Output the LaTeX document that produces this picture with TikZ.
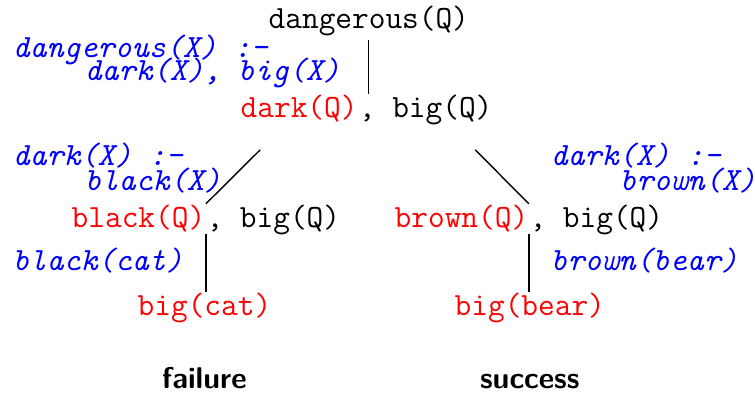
\documentclass[tikz,border=0pt]{standalone}
\usepackage{fontspec}
\usepackage{tikz}
\usetikzlibrary{calc}

\begin{document}
\begin{tikzpicture}[x=0.5pt, y=-0.5pt, line width=0.7pt,
  every node/.style={inner sep=0pt, anchor=base west, font=\fontsize{16.2}{19}\selectfont\ttfamily},
  sel/.style={text=red},
  rule/.style={text=blue, font=\fontsize{16.2}{19}\selectfont\ttfamily\itshape},
  verdict/.style={anchor=base, font=\fontsize{15}{18}\selectfont\sffamily\bfseries}]
\useasboundingbox (0,0) rectangle (755,396);

% Goal at the root
\node (top) at (268,28) {dangerous(Q)};
\node[rule] (r1a) at (12,57) {dangerous(X) :-};
\node[rule] (r1b) at (84,80) {dark(X), big(X)};

% First resolvent
\node[sel] (dq) at (240,117) {dark(Q)};
\node (dqrest) at (dq.base east) {, big(Q)};
\coordinate (fork) at ($(dq.north east)+(10,0)$);
\draw ($(top.south -| fork)+(0,4)$) -- (fork);

% Left branch
\node[rule] (r2a) at (12,165) {dark(X) :-};
\node[rule] (r2b) at (84,190) {black(X)};
\node[sel] (bq) at (71,227) {black(Q)};
\node (bqrest) at (bq.base east) {, big(Q)};
\coordinate (forkL) at ($(fork)+(-108,56)$);
\draw (forkL) -- (bq.north east);
\node[rule] (r4) at (12,270) {black(cat)};
\node[sel] (bc) at (137,315) {big(cat)};
\draw ($(bq.south east)+(0,2)$) -- (bq.south east |- bc.north);

% Right branch
\node[rule] (r3a) at (550,165) {dark(X) :-};
\node[rule] (r3b) at (619,190) {brown(X)};
\node[sel] (brq) at (394,227) {brown(Q)};
\node (brqrest) at (brq.base east) {, big(Q)};
\coordinate (forkR) at ($(fork)+(107,56)$);
\draw (forkR) -- (brq.north east);
\node[rule] (r5) at (550,270) {brown(bear)};
\node[sel] (bb) at (454,315) {big(bear)};
\draw ($(brq.south east)+(0,2)$) -- (brq.south east |- bb.north);

% Outcomes
\node[verdict] (fail) at (bc.base |- 0,388) {failure};
\node[verdict] (succ) at (bb.base |- 0,388) {success};
\end{tikzpicture}
\end{document}
